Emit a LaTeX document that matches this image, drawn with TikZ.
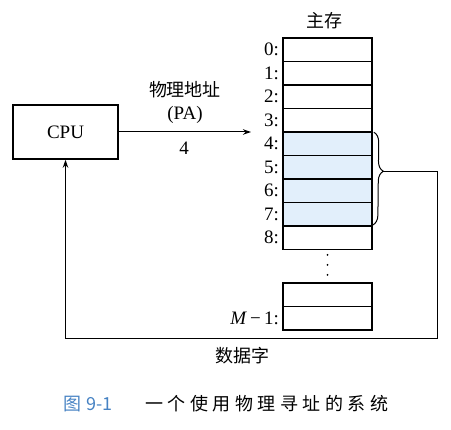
\documentclass[tikz,border=0pt]{standalone}
\usepackage{fontspec}
\setmainfont{Liberation Serif}
\newfontfamily\cjk{Noto Sans CJK SC}
\newfontfamily\cjkcap[LetterSpace=25]{Noto Sans CJK SC}
\usetikzlibrary{arrows.meta,decorations.pathreplacing}
\definecolor{cellblue}{RGB}{226,239,251}
\definecolor{capblue}{RGB}{70,130,195}
\tikzset{
  cell/.style={draw, line width=1.6pt, minimum width=89pt, minimum height=23.5pt, inner sep=0pt},
  hcell/.style={cell, fill=cellblue},
  addr/.style={anchor=east, inner sep=0pt, font=\fontsize{19}{19}\selectfont},
  conn/.style={line width=1pt},
  arr/.style={conn, -{Stealth[length=8pt,width=5.5pt]}},
  lab/.style={inner sep=0pt, font=\fontsize{19}{19}\selectfont},
  cjklab/.style={inner sep=0pt, font=\cjk\fontsize{18}{18}\selectfont},
}
\begin{document}
\begin{tikzpicture}[x=1pt,y=-1pt]
\useasboundingbox (0,0) rectangle (451,430);
% CPU
\node[draw, line width=1.6pt, minimum width=105pt, minimum height=54pt, inner sep=0pt, font=\fontsize{19}{19}\selectfont] (cpu) at (65.5,132) {CPU};
% memory
\node[cjklab] (title) at (324,21) {主存};
\foreach \i/\st in {0/cell,1/cell,2/cell,3/cell,4/hcell,5/hcell,6/hcell,7/hcell,8/cell} {
  \node[\st] (m\i) at (327.5,{38+23.5*(\i+0.5)}) {};
  \node[addr] (l\i) at (279,{38+23.5*(\i+0.5)}) {\i:};
}
\node[cell] (ma) at (327.5,294.75) {};
\node[cell] (mb) at (327.5,318.25) {};
\node[addr] (lm) at (279,318.5) {\textit{M}\,−\,1:};
% dots
\foreach \k/\yy in {1/255,2/265,3/275} \fill (327.5,\yy) circle (1pt) coordinate (d\k);
% address arrow
\coordinate (pa) at (251,132);
\draw[arr] (cpu.east) -- (pa);
\node[cjklab] (pal1) at (185,90) {物理地址};
\node[lab] (pal2) at (185,115) {(PA)};
\node[lab] (pal3) at (184,148) {4};
% brace
\draw[conn, decorate, decoration={brace, amplitude=10pt, aspect=0.42}] (m4.north east) ++(1,1) coordinate (bt) -- (m7.south east |- 0,225) coordinate (bb);
\coordinate (tip) at (383,172);
\coordinate (c1) at (437,172);
\coordinate (c2) at (437,339);
\coordinate (c3) at (cpu.south |- 0,339);
\draw[arr] (tip) -- (c1) -- (c2) -- (c3) -- (cpu.south);
\node[cjklab] (data) at (242,356) {数据字};
% caption
\node[anchor=west, inner sep=0pt, text=capblue, font=\cjk\fontsize{18}{18}\selectfont] (fig) at (63,404) {图\hspace{5pt}9-1};
\node[anchor=west, inner sep=0pt, font=\cjkcap\fontsize{18}{18}\selectfont] (cap) at (145,404) {一个使用物理寻址的系统};
\end{tikzpicture}
\end{document}
